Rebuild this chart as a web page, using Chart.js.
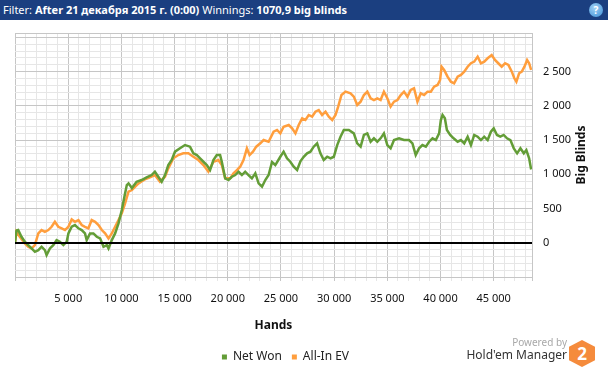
<!DOCTYPE html>
<html>
<head>
<meta charset="utf-8">
<script src="https://cdn.jsdelivr.net/npm/chart.js@4.4.1/dist/chart.umd.min.js"></script>
<style>
  body { margin: 0; width: 608px; height: 369px; overflow: hidden; background: #fff; position: relative; font-family: "Noto Sans", sans-serif; }
  #bar { position: absolute; left: 0; top: 0; width: 608px; height: 20px; background: #1b3f80; color: #fff; font-size: 11px; line-height: 20px; z-index: 2; }
  #bar span.t { margin-left: 3px; }
  #bar b { font-weight: bold; }
  #help { position: absolute; left: 589px; top: 3px; width: 14px; height: 14px; border-radius: 50%; background: radial-gradient(circle at 40% 35%, #9fd0f5, #3d8fd6); color: #fff; font: bold 10px/14px "Noto Sans", sans-serif; text-align: center; z-index: 3; }
  canvas { position: absolute; left: 0; top: 0; }
  #powered { position: absolute; right: 41px; top: 335px; font-size: 10px; color: #a8a8a8; }
  #hem { position: absolute; right: 41px; top: 346px; font-size: 12px; color: #333; }
  #hex { position: absolute; left: 569px; top: 340px; width: 26px; height: 27px; background: #f58b3c; clip-path: polygon(50% 0, 100% 25%, 100% 75%, 50% 100%, 0 75%, 0 25%); color: #fff; font: bold 17px/27px "Noto Sans", sans-serif; text-align: center; }
</style>
</head>
<body>
<div id="bar"><span class="t">Filter: <b>After 21 декабря 2015 г. (0:00)</b> Winnings: <b>1070,9 big blinds</b></span></div>
<div id="help">?</div>
<canvas id="myChart" width="608" height="373"></canvas>
<div id="powered">Powered by</div>
<div id="hem">Hold'em Manager</div>
<div id="hex">2</div>
<script>
// values (hands, big blinds)
const netWonHands = [0, 140, 300, 610, 920, 1240, 1560, 1870, 2190, 2500, 2810, 2970, 3280, 3600, 3910, 4220, 4550, 4860, 5020, 5330, 5640, 5960, 6270, 6580, 6740, 7050, 7370, 7690, 8000, 8320, 8630, 8790, 9100, 9410, 9730, 10040, 10350, 10510, 10670, 10990, 11430, 11900, 12370, 12840, 13150, 13470, 13790, 14100, 14410, 14730, 15040, 15510, 15980, 16450, 16770, 17090, 17400, 17710, 18030, 18340, 18650, 18970, 19280, 19440, 19760, 20070, 20390, 20700, 21010, 21330, 21640, 21950, 22270, 22590, 22900, 23220, 23530, 23840, 24160, 24470, 24940, 25250, 25570, 25880, 26200, 26520, 26830, 27140, 27460, 27770, 28080, 28400, 28710, 29020, 29350, 29660, 29970, 30290, 30600, 30910, 31380, 31850, 32170, 32490, 32800, 33120, 33430, 33740, 34060, 34370, 34680, 35000, 35310, 35630, 36100, 36570, 37040, 37360, 37670, 37980, 38300, 38620, 38930, 39250, 39560, 39870, 40030, 40190, 40410, 40600, 40910, 41230, 41610, 41920, 42230, 42550, 42860, 43170, 43490, 43800, 44110, 44430, 44740, 45000, 45310, 45620, 45940, 46250, 46570, 46890, 47200, 47510, 47830, 48070, 48330, 48520];
const netWonValues = [0, 180, 186, 88, 15, -34, -82, -132, -107, -58, -107, -180, -82, -34, 39, 15, -34, 15, 137, 234, 259, 211, 186, 137, 39, 137, 137, 88, 64, -58, -34, -82, 39, 137, 284, 478, 722, 844, 868, 800, 892, 917, 956, 990, 1038, 965, 892, 990, 1136, 1209, 1331, 1380, 1428, 1404, 1307, 1282, 1234, 1184, 1136, 1063, 1209, 1282, 1282, 1184, 941, 917, 965, 990, 1038, 990, 1038, 990, 941, 1014, 868, 819, 917, 990, 1180, 1136, 1257, 1331, 1234, 1184, 1111, 1063, 1190, 1257, 1307, 1331, 1404, 1453, 1307, 1209, 1257, 1234, 1257, 1428, 1550, 1648, 1648, 1599, 1453, 1404, 1575, 1599, 1477, 1526, 1477, 1526, 1599, 1428, 1380, 1501, 1526, 1501, 1501, 1453, 1282, 1380, 1428, 1404, 1477, 1526, 1501, 1599, 1794, 1867, 1818, 1648, 1575, 1526, 1477, 1501, 1453, 1550, 1428, 1575, 1550, 1501, 1550, 1501, 1623, 1672, 1575, 1550, 1575, 1526, 1501, 1380, 1307, 1380, 1307, 1355, 1234, 1071];
const allInHands = [0, 140, 450, 920, 1240, 1560, 1870, 2190, 2500, 2810, 3130, 3440, 3750, 4070, 4390, 4700, 5020, 5330, 5640, 5960, 6270, 6580, 6900, 7210, 7530, 7850, 8160, 8470, 8790, 9100, 9410, 9730, 10040, 10350, 10670, 10990, 11300, 11620, 11930, 12210, 12680, 13150, 13620, 14100, 14410, 14880, 15350, 15820, 16300, 16770, 17240, 17710, 18180, 18650, 19120, 19440, 19760, 20230, 20540, 20860, 21170, 21480, 21800, 22050, 22370, 22680, 23060, 23370, 23840, 24310, 24630, 24940, 25250, 25730, 26050, 26360, 26670, 26990, 27300, 27610, 27930, 28240, 28550, 28870, 29190, 29500, 29820, 30130, 30380, 30690, 31070, 31540, 31850, 32170, 32490, 32800, 33120, 33430, 33740, 34060, 34370, 34680, 35000, 35310, 35630, 35950, 36260, 36570, 36890, 37200, 37510, 37830, 38140, 38460, 38780, 39090, 39400, 39720, 39960, 40100, 40340, 40660, 40970, 41280, 41610, 41920, 42230, 42550, 42860, 43170, 43490, 43800, 44110, 44430, 44810, 45120, 45430, 45750, 46070, 46380, 46700, 46940, 47130, 47390, 47640, 47890, 48140, 48330, 48520];
const allInValues = [0, 161, 88, -10, -58, -82, -34, 137, 186, 161, 186, 234, 307, 234, 211, 186, 234, 342, 307, 332, 259, 234, 211, 332, 307, 259, 186, 137, 64, 137, 234, 332, 430, 576, 746, 770, 820, 868, 900, 927, 956, 990, 892, 965, 1087, 1234, 1282, 1307, 1307, 1257, 1209, 1136, 1038, 1184, 1209, 1136, 941, 941, 1014, 1063, 1111, 1209, 1380, 1282, 1331, 1404, 1453, 1501, 1477, 1623, 1648, 1599, 1696, 1721, 1672, 1599, 1721, 1818, 1794, 1867, 1842, 1915, 1940, 1867, 1915, 1842, 1794, 1867, 1989, 2159, 2208, 2184, 2135, 2013, 2062, 2159, 2208, 2111, 2086, 2111, 2086, 2208, 2111, 1989, 2062, 2086, 2159, 2208, 2135, 2233, 2257, 2062, 2184, 2159, 2208, 2208, 2281, 2306, 2379, 2573, 2525, 2427, 2354, 2330, 2427, 2452, 2500, 2573, 2623, 2647, 2720, 2623, 2647, 2696, 2744, 2671, 2623, 2573, 2623, 2598, 2500, 2403, 2354, 2477, 2500, 2573, 2671, 2623, 2525];
const handLabels = [5000, 10000, 15000, 20000, 25000, 30000, 35000, 40000, 45000];
const bbLabels = [0, 500, 1000, 1500, 2000, 2500];
const handsMax = 48600;
const bbMin = -500;
const bbMax = 3065;

const green = "#639d37";
const orange = "#ff9e3d";
const majorGrid = "#c6c6c6";
const minorGrid = "#e6e6e6";

Chart.defaults.font.family = '"Noto Sans", sans-serif';

function fmt(v) {
  return String(v).replace(/\B(?=(\d{3})+(?!\d))/g, " ");
}

const extras = {
  id: "extras",
  afterLayout(chart) {
    // legend sits centred under the plot + axis, not the whole canvas
    chart.legend.left -= 18;
    chart.legend.right -= 18;
  },
  afterDatasetsDraw(chart) {
    const ctx = chart.ctx;
    const area = chart.chartArea;
    const y0 = Math.round(chart.scales.y.getPixelForValue(0));
    ctx.save();
    ctx.strokeStyle = "#000";
    ctx.lineWidth = 2;
    ctx.beginPath();
    ctx.moveTo(area.left, y0);
    ctx.lineTo(area.right, y0);
    ctx.stroke();
    ctx.restore();
  },
  afterDraw(chart) {
    const ctx = chart.ctx;
    const area = chart.chartArea;
    ctx.save();
    ctx.translate(area.right + 50, (area.top + area.bottom) / 2);
    ctx.rotate(-Math.PI / 2);
    ctx.font = 'bold 12px "Noto Sans"';
    ctx.fillStyle = "#111";
    ctx.textAlign = "center";
    ctx.textBaseline = "middle";
    ctx.fillText("Big Blinds", 0, 0);
    ctx.restore();
  }
};

const ctx = document.getElementById("myChart");
const myChart = new Chart(ctx, {
  type: "line",
  data: {
    datasets: [
      {
        label: "Net Won",
        data: netWonHands.map((h, i) => ({ x: h, y: netWonValues[i] })),
        borderColor: green,
        backgroundColor: green,
        borderWidth: 2.5,
        pointRadius: 0,
        tension: 0
      },
      {
        label: "All-In EV",
        data: allInHands.map((h, i) => ({ x: h, y: allInValues[i] })),
        borderColor: orange,
        backgroundColor: orange,
        borderWidth: 2.5,
        pointRadius: 0,
        tension: 0
      }
    ]
  },
  options: {
    responsive: false,
    animation: false,
    layout: { padding: { left: 15, top: 33, right: 16, bottom: 0 } },
    scales: {
      x: {
        type: "linear",
        min: 0,
        max: handsMax,
        afterBuildTicks: (s) => {
          const t = [];
          for (let v = 0; v < handsMax; v += 1000) t.push({ value: v });
          t.push({ value: handsMax });
          s.ticks = t;
        },
        afterFit: (s) => { s.height = 64; },
        grid: {
          color: (c) => (c.tick.value % 5000 === 0 || c.tick.value === handsMax ? majorGrid : minorGrid),
          tickLength: 4
        },
        border: { color: majorGrid },
        ticks: {
          autoSkip: false,
          maxRotation: 0,
          padding: 11,
          color: "#111",
          font: { size: 11 },
          callback: (v) => (handLabels.includes(v) ? fmt(v) : "")
        },
        title: {
          display: true,
          text: "Hands",
          color: "#111",
          font: { size: 12, weight: "bold" },
          padding: { top: 4, bottom: 8 }
        }
      },
      y: {
        position: "right",
        min: bbMin,
        max: bbMax,
        afterBuildTicks: (s) => {
          const t = [];
          for (let v = bbMin; v < bbMax; v += 100) t.push({ value: v });
          t.push({ value: bbMax });
          s.ticks = t;
        },
        afterFit: (s) => { s.width = 60; },
        grid: {
          color: (c) => (c.tick.value === 0 ? "#000" : (c.tick.value % 500 === 0 || c.tick.value === bbMax ? majorGrid : minorGrid)),
          lineWidth: (c) => (c.tick.value === 0 ? 2 : 1),
          drawTicks: false
        },
        border: { color: majorGrid },
        ticks: {
          autoSkip: false,
          padding: 11,
          color: "#111",
          font: { size: 11 },
          callback: (v) => (bbLabels.includes(v) ? fmt(v) : "")
        }
      }
    },
    plugins: {
      legend: {
        position: "bottom",
        labels: {
          boxWidth: 5,
          boxHeight: 5,
          padding: 10,
          color: "#222",
          font: { size: 12 },
          generateLabels: (chart) =>
            Chart.defaults.plugins.legend.labels.generateLabels(chart).map((l) => Object.assign(l, { lineWidth: 0 }))
        }
      },
      tooltip: { enabled: false }
    }
  },
  plugins: [extras]
});
</script>
</body>
</html>
